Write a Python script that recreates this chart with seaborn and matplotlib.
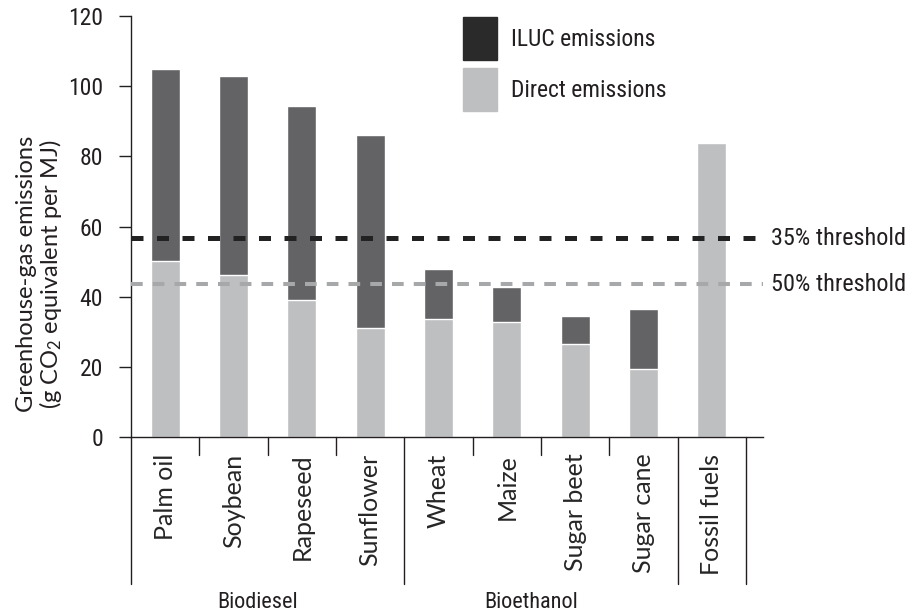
import matplotlib
matplotlib.use('Agg')
import matplotlib.pyplot as plt
import matplotlib.transforms as mtransforms
from matplotlib.patches import Patch
import pandas as pd
import seaborn as sns

# values (g CO2 eq per MJ)
feedstocks = ['Palm oil', 'Soybean', 'Rapeseed', 'Sunflower', 'Wheat',
              'Maize', 'Sugar beet', 'Sugar cane', 'Fossil fuels']
direct = [50.1, 46.2, 39.0, 31.1, 33.6, 32.8, 26.5, 19.4, 83.8]
iluc = [54.7, 56.6, 55.3, 54.9, 14.3, 9.9, 8.0, 17.1, 0.0]
groups = ['Biodiesel'] * 4 + ['Bioethanol'] * 4 + ['']
threshold_names = ['35% threshold', '50% threshold']
threshold_values = [56.7, 43.5]

ILUC_COL = '#636365'
DIRECT_COL = '#bebfc1'
LEGEND_ILUC = '#2a2a2a'
INK = '#231f20'

df = pd.DataFrame({'feedstock': feedstocks, 'direct': direct, 'iluc': iluc})
df['total'] = df['direct'] + df['iluc']

sns.set_style('white')
NARROW = ['Roboto Condensed', 'Roboto', 'DejaVu Sans']
HUMAN = ['Lato', 'DejaVu Sans']
plt.rcParams['font.family'] = NARROW
plt.rcParams['mathtext.default'] = 'regular'
plt.rcParams['text.color'] = INK

fig = plt.figure(figsize=(9.09, 6.16), dpi=100)
ax = fig.add_axes([131 / 909, 1 - 437 / 616, 632 / 909, 421 / 616])

sns.barplot(data=df, x='feedstock', y='total', color=ILUC_COL, saturation=1,
            width=0.425, ax=ax)
sns.barplot(data=df, x='feedstock', y='direct', color=DIRECT_COL, saturation=1,
            width=0.425, ax=ax)

# threshold lines
ax.axhline(threshold_values[0], color='#222222', lw=3.6,
           linestyle=(0, (2.4, 2.7)), zorder=3)
ax.axhline(threshold_values[1], color='#a7a8aa', lw=2.9,
           linestyle=(0, (2.9, 2.5)), zorder=3)
for name, val in zip(threshold_names, threshold_values):
    ax.text(1.013, val, name, transform=ax.get_yaxis_transform(),
            ha='left', va='center', fontsize=17.5, clip_on=False)

ax.set_ylim(0, 120)
ax.set_xlim(-0.5, 8.75)
ax.set_yticks(range(0, 121, 20))
ax.set_xlabel('')
ax.set_ylabel('')
sns.despine(ax=ax)
for s in ['left', 'bottom']:
    ax.spines[s].set_color(INK)
    ax.spines[s].set_linewidth(1)

ax.tick_params(axis='y', length=9, width=1, pad=11, labelsize=17,
               colors=INK, direction='out', left=True)
ax.tick_params(axis='x', length=0, pad=12)
ax.set_xticks(range(len(feedstocks)))
ax.set_xticklabels(feedstocks, rotation=90, fontsize=18, family=HUMAN,
                   va='top', ha='center')

# separators below the axis
trans = mtransforms.blended_transform_factory(ax.transData, ax.transAxes)
n = len(feedstocks)
for i in range(n + 1):
    long_line = i == 0 or i == n or groups[i - 1] != groups[i]
    y_end = -0.349 if long_line else -0.043
    ax.plot([i - 0.5, i - 0.5], [0, y_end], transform=trans, color=INK,
            lw=1, clip_on=False)

for g in dict.fromkeys(groups):
    if not g:
        continue
    idx = [i for i, gg in enumerate(groups) if gg == g]
    ax.text(sum(idx) / len(idx) - 0.15, -0.392, g, transform=trans,
            ha='center', va='center', fontsize=16, clip_on=False)

fig.text(40 / 909, 1 - 274 / 616,
         'Greenhouse-gas emissions\n(g CO$_2$ equivalent per MJ)',
         rotation=90, ha='center', va='center', fontsize=17, family=HUMAN,
         linespacing=1.0, multialignment='center')

handles = [Patch(color=LEGEND_ILUC, label='ILUC emissions'),
           Patch(color=DIRECT_COL, label='Direct emissions')]
fig.legend(handles=handles, loc='upper left',
           bbox_to_anchor=(463 / 909, 1 - 17 / 616), frameon=False,
           fontsize=17, handlelength=1.44, handleheight=2.43,
           handletextpad=0.59, labelspacing=0.34, borderpad=0,
           borderaxespad=0)

fig.savefig('out.png', dpi=100)
